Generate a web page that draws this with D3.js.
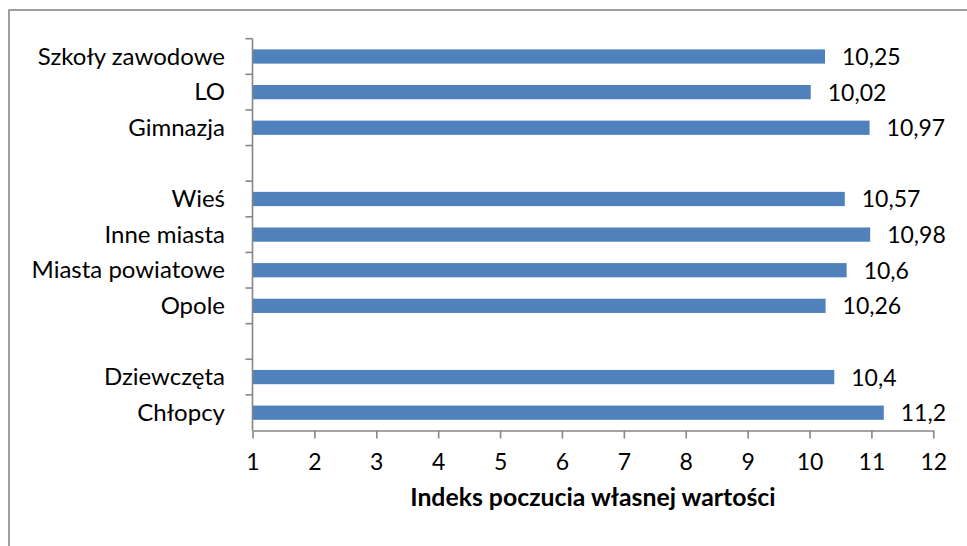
<!DOCTYPE html>
<html><head><meta charset="utf-8">
<script src="https://cdn.jsdelivr.net/npm/d3@7"></script>
<style>
html,body{margin:0;padding:0;background:#fff;}
svg{display:block;font-family:Lato,"Open Sans",sans-serif;}
</style></head>
<body>
<svg id="c" width="967" height="546"></svg>
<script>
const categories = ["Szkoły zawodowe","LO","Gimnazja","","Wieś","Inne miasta","Miasta powiatowe","Opole","","Dziewczęta","Chłopcy"];
const values = [10.25,10.02,10.97,null,10.57,10.98,10.6,10.26,null,10.4,11.2];
const labels = ["10,25","10,02","10,97","","10,57","10,98","10,6","10,26","","10,4","11,2"];
const xTicks = [1,2,3,4,5,6,7,8,9,10,11,12];
const xTitle = "Indeks poczucia własnej wartości";

(function(){
const svg = d3.select("#c");
const axisColor = "#868686";
const barColor = "#4F81BD";

// outer border
svg.append("rect").attr("x",9).attr("y",10).attr("width",1000).attr("height",600)
  .attr("fill","none").attr("stroke","#888").attr("stroke-width",1.6);

const pL = 252.5, pR = 933.3, pT = 38.7, pB = 430.5;
const x = d3.scaleLinear().domain([1,12]).range([pL,pR]);
const idx = d3.range(categories.length);
const y = d3.scaleBand().domain(idx).range([pT,pB]).paddingInner(0.6).paddingOuter(0.3);
const step = y.step();

// bars
svg.append("g").selectAll("rect").data(idx.filter(i=>values[i]!=null)).join("rect")
  .attr("x", x(1)).attr("y", i=>y(i)).attr("width", i=>x(values[i])-x(1)).attr("height", y.bandwidth())
  .attr("fill", barColor);

// value labels
svg.append("g").selectAll("text").data(idx.filter(i=>values[i]!=null)).join("text")
  .attr("x", i=>x(values[i])+17).attr("y", i=>y(i)+y.bandwidth()/2+8.5)
  .attr("font-size",23).attr("fill","#000").text(i=>labels[i]);

// y axis
const ya = svg.append("g");
ya.append("line").attr("x1",pL).attr("x2",pL).attr("y1",pT).attr("y2",pB)
  .attr("stroke",axisColor).attr("stroke-width",1.6);
const bounds = idx.map(i=>y(i)-step*y.paddingInner()/2);
ya.selectAll("line.t").data(bounds).join("line").attr("class","t")
  .attr("x1",pL-7).attr("x2",pL).attr("y1",d=>d).attr("y2",d=>d)
  .attr("stroke",axisColor).attr("stroke-width",1.6);
ya.selectAll("text").data(idx.filter(i=>categories[i]!=="")).join("text")
  .attr("x",225).attr("y",i=>y(i)+y.bandwidth()/2+8).attr("text-anchor","end")
  .attr("font-size",24).attr("fill","#000").text(i=>categories[i]);

// x axis
const xa = svg.append("g").attr("transform",`translate(0,${pB})`)
  .call(d3.axisBottom(x).tickValues(xTicks).tickSize(8).tickSizeOuter(0).tickPadding(15).tickFormat(d3.format("d")));
xa.select(".domain").attr("stroke",axisColor).attr("stroke-width",1.6);
xa.selectAll(".tick line").attr("stroke",axisColor).attr("stroke-width",1.6);
xa.selectAll(".tick text").attr("font-size",23).attr("fill","#000").attr("font-family","Lato,sans-serif");

// x title
svg.append("text").attr("x",(pL+pR)/2).attr("y",506).attr("text-anchor","middle")
  .attr("font-size",24.8).attr("font-weight","bold").attr("fill","#000").text(xTitle);
})();
</script>
</body></html>
